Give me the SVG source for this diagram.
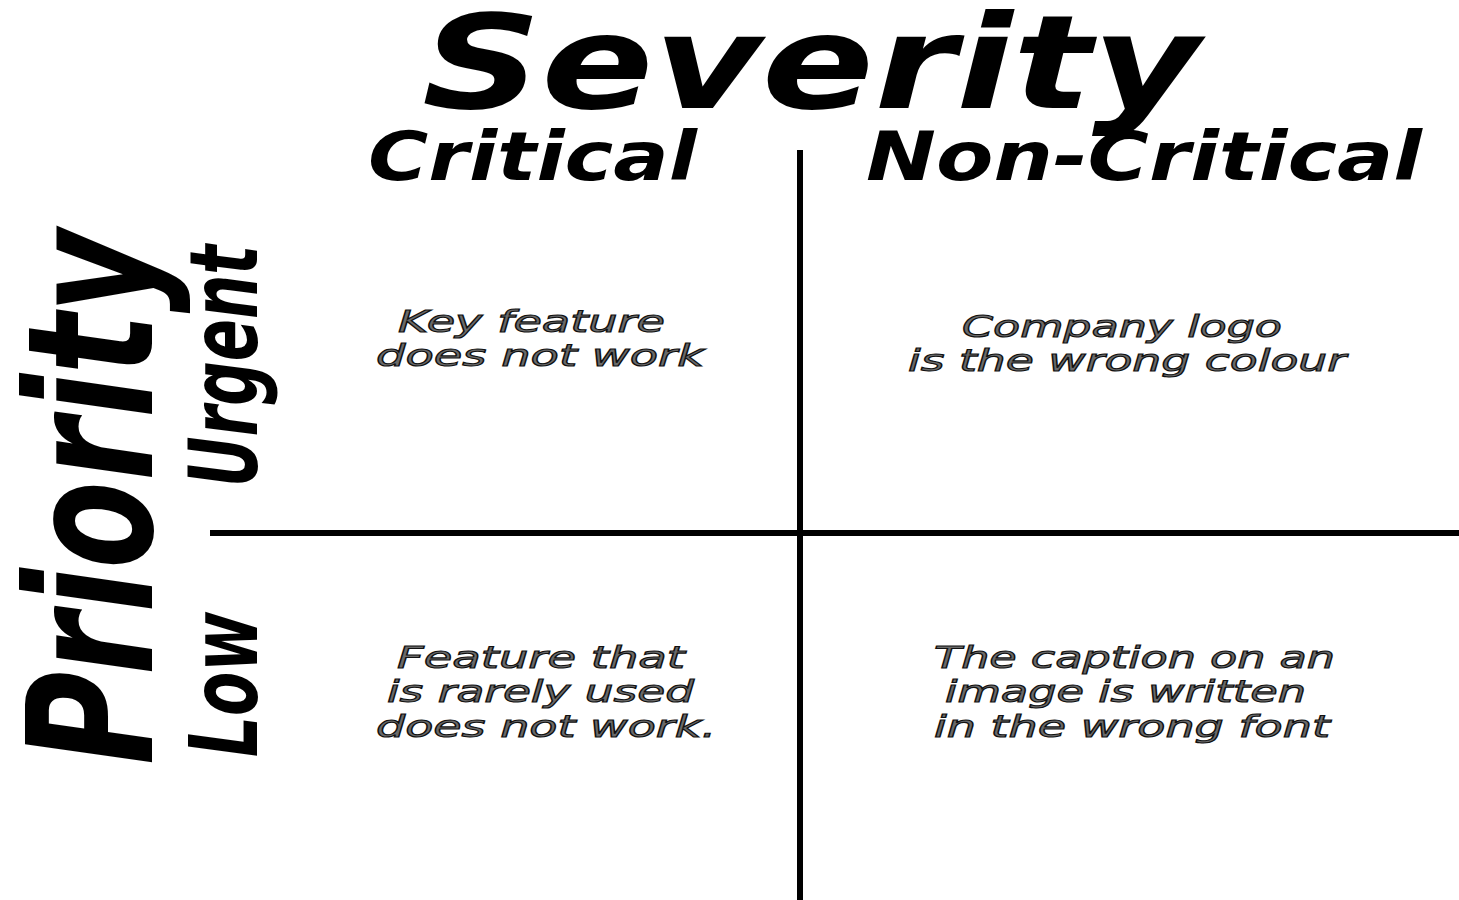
<svg xmlns="http://www.w3.org/2000/svg" width="1459" height="900" viewBox="0 0 1459 900">
<style>
.h{font-family:"DejaVu Sans",sans-serif;font-weight:bold;font-style:oblique;fill:#000}
.q{font-family:"DejaVu Sans",sans-serif;font-style:oblique;font-size:31px;fill:#6a6a6a;stroke:#111;stroke-width:1.1}
.ln{stroke:#000;stroke-width:6;fill:none}
</style>
<rect width="1459" height="900" fill="#fff"/>
<g id="connectors">
<line class="ln" x1="800" y1="150" x2="800" y2="900"/>
<line class="ln" x1="210" y1="533" x2="1459" y2="533"/>
</g>
<g id="title-severity">
<text class="h" x="422" y="108" font-size="130" textLength="778" lengthAdjust="spacingAndGlyphs">Severity</text>
</g>
<g id="col-critical">
<text class="h" x="368" y="180" font-size="68" textLength="329" lengthAdjust="spacingAndGlyphs">Critical</text>
</g>
<g id="col-noncritical">
<text class="h" x="866" y="180" font-size="68" textLength="556" lengthAdjust="spacingAndGlyphs">Non-Critical</text>
</g>
<g id="title-priority">
<text class="h" transform="translate(152,765) rotate(-90)" x="0" y="0" font-size="175" textLength="535" lengthAdjust="spacingAndGlyphs">Priority</text>
</g>
<g id="row-urgent">
<text class="h" transform="translate(257,487) rotate(-90)" x="0" y="0" font-size="94" textLength="242" lengthAdjust="spacingAndGlyphs">Urgent</text>
</g>
<g id="row-low">
<text class="h" transform="translate(257,757) rotate(-90)" x="0" y="0" font-size="94" textLength="145" lengthAdjust="spacingAndGlyphs">Low</text>
</g>
<g id="q-critical-urgent">
<text class="q" x="398" y="332" textLength="267" lengthAdjust="spacingAndGlyphs">Key feature</text>
<text class="q" x="376" y="366" textLength="328" lengthAdjust="spacingAndGlyphs">does not work</text>
</g>
<g id="q-noncritical-urgent">
<text class="q" x="962" y="337" textLength="320" lengthAdjust="spacingAndGlyphs">Company logo</text>
<text class="q" x="908" y="371" textLength="438" lengthAdjust="spacingAndGlyphs">is the wrong colour</text>
</g>
<g id="q-critical-low">
<text class="q" x="397" y="668" textLength="288" lengthAdjust="spacingAndGlyphs">Feature that</text>
<text class="q" x="387" y="702" textLength="307" lengthAdjust="spacingAndGlyphs">is rarely used</text>
<text class="q" x="376" y="737" textLength="340" lengthAdjust="spacingAndGlyphs">does not work.</text>
</g>
<g id="q-noncritical-low">
<text class="q" x="934" y="668" textLength="401" lengthAdjust="spacingAndGlyphs">The caption on an</text>
<text class="q" x="945" y="702" textLength="361" lengthAdjust="spacingAndGlyphs">image is written</text>
<text class="q" x="934" y="737" textLength="396" lengthAdjust="spacingAndGlyphs">in the wrong font</text>
</g>
</svg>
